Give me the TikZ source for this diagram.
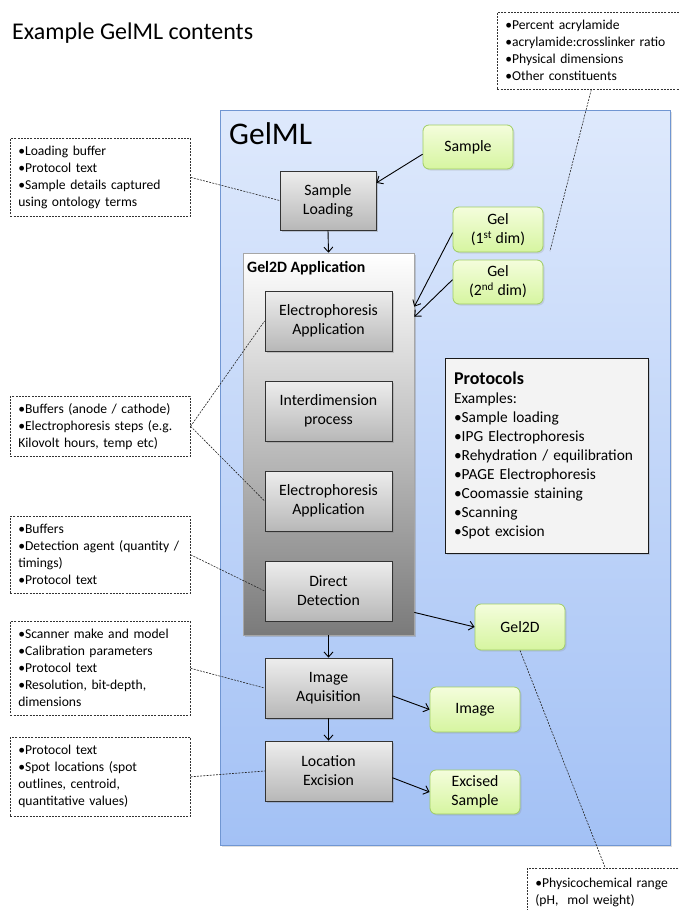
\documentclass[tikz,border=0pt]{standalone}
\usepackage{fontspec}
\setmainfont{Carlito}
\usetikzlibrary{arrows.meta,shadows}
\definecolor{bluetop}{RGB}{222,233,252}
\definecolor{bluebot}{RGB}{163,193,245}
\definecolor{blueedge}{RGB}{112,150,210}
\definecolor{greentop}{RGB}{244,253,220}
\definecolor{greenbot}{RGB}{214,245,160}
\definecolor{greenedge}{RGB}{160,205,100}
\definecolor{protofill}{RGB}{243,243,243}
\tikzset{
  greybox/.style={draw=black!80, line width=0.8pt, top color=black!7, bottom color=black!28,
    drop shadow={opacity=0.35, shadow xshift=2pt, shadow yshift=-2pt},
    align=center, inner sep=2pt, font=\fontsize{15.8}{19}\selectfont},
  greenbox/.style={draw=greenedge, line width=0.8pt, rounded corners=6pt, top color=greentop, bottom color=greenbot,
    drop shadow={opacity=0.2, shadow xshift=1.5pt, shadow yshift=-1.5pt},
    minimum width=90pt, align=center, inner sep=2pt, font=\fontsize{15.8}{19}\selectfont},
  notebox/.style={draw=black!80, dashed, dash pattern=on 2pt off 1.2pt, line width=0.6pt,
    align=left, inner xsep=8pt, inner ysep=4pt, text width=164pt,
    font=\fontsize{13.6}{17}\selectfont, anchor=north west},
  noteline/.style={draw=black!85, dash pattern=on 2pt off 1.2pt, line width=0.6pt},
  arr/.style={-{Straight Barb[length=5pt,width=9pt]}, line width=0.9pt, black}
}
\begin{document}
\begin{tikzpicture}[x=1pt,y=-1pt]
\useasboundingbox (0,0) rectangle (679,910);
\fill[white] (0,0) rectangle (679,910);

% title
\node[anchor=west, inner sep=0pt, font=\fontsize{24}{28}\selectfont] (title) at (12,33) {Example GelML contents};

% GelML blue panel
\node[draw=blueedge, line width=1pt, top color=bluetop, bottom color=bluebot,
  minimum width=450pt, minimum height=735pt, inner sep=0pt,
  drop shadow={opacity=0.25, shadow xshift=2pt, shadow yshift=-2pt}] (gelml) at (445,477.5) {};
\node[anchor=west, inner sep=0pt, font=\fontsize{31.5}{36}\selectfont] (gelmltitle) at (229,134) {GelML};

% green data nodes
\node[greenbox, minimum height=44pt] (sample) at (468,147) {Sample};
\node[greenbox, minimum height=45pt] (gel1) at (498,229.5) {Gel\\(1\textsuperscript{st} dim)};
\node[greenbox, minimum height=44pt] (gel2) at (498,282) {Gel\\(2\textsuperscript{nd} dim)};
\node[greenbox, minimum height=46pt] (gel2d) at (520,627) {Gel2D};
\node[greenbox, minimum height=45pt] (image) at (475,709.5) {Image};
\node[greenbox, minimum height=44pt] (excised) at (475,792) {Excised\\Sample};

% sample loading
\node[greybox, minimum width=96pt, minimum height=59pt] (sl) at (328,200.5) {Sample\\Loading};

% Gel2D Application container
\node[draw=black!35, line width=0.6pt, top color=white, bottom color=black!52,
  minimum width=171pt, minimum height=382pt, inner sep=0pt,
  drop shadow={opacity=0.35, shadow xshift=2pt, shadow yshift=-2pt}] (app) at (328.5,444) {};
\node[anchor=west, inner sep=0pt, font=\bfseries\fontsize{15.8}{18}\selectfont] (applabel) at (247,268) {Gel2D Application};

\node[greybox, minimum width=127pt, minimum height=60pt] (ea1) at (328.5,321) {Electrophoresis\\Application};
\node[greybox, minimum width=127pt, minimum height=60pt] (idp) at (328.5,411) {Interdimension\\process};
\node[greybox, minimum width=127pt, minimum height=60pt] (ea2) at (328.5,501) {Electrophoresis\\Application};
\node[greybox, minimum width=127pt, minimum height=60pt] (dd) at (328.5,591) {Direct\\Detection};

\node[greybox, minimum width=127pt, minimum height=60pt] (ia) at (328.5,688) {Image\\Aquisition};
\node[greybox, minimum width=127pt, minimum height=60pt] (le) at (328.5,771) {Location\\Excision};

% protocols box
\node[draw=black!90, line width=1pt, fill=protofill, minimum width=203pt, minimum height=195pt,
  text width=185pt, align=left, inner xsep=9pt, font=\fontsize{15.4}{19}\selectfont,
  drop shadow={opacity=0.25, shadow xshift=1.5pt, shadow yshift=-1.5pt}] (proto) at (546.5,455.5)
  {{\bfseries\fontsize{18}{21}\selectfont Protocols}\\
   Examples:\\
   •Sample loading\\
   •IPG Electrophoresis\\
   •Rehydration / equilibration\\
   •PAGE Electrophoresis\\
   •Coomassie staining\\
   •Scanning\\
   •Spot excision};

% note boxes
\node[notebox, minimum width=180pt, minimum height=78pt] (n1) at (10,138)
  {•Loading buffer\\•Protocol text\\•Sample details captured\\using ontology terms};
\node[notebox, minimum width=180pt, minimum height=60pt] (n2) at (10,396)
  {•Buffers (anode / cathode)\\•Electrophoresis steps (e.g.\\Kilovolt hours, temp etc)};
\node[notebox, minimum width=180pt, minimum height=77pt] (n3) at (10,516)
  {•Buffers\\•Detection agent (quantity /\\timings)\\•Protocol text};
\node[notebox, minimum width=180pt, minimum height=94pt] (n4) at (10,621)
  {•Scanner make and model\\•Calibration parameters\\•Protocol text\\•Resolution, bit-depth,\\dimensions};
\node[notebox, minimum width=180pt, minimum height=79pt] (n5) at (10,737)
  {•Protocol text\\•Spot locations (spot\\outlines, centroid,\\quantitative values)};
\node[notebox, minimum width=190pt, minimum height=77pt, text width=174pt] (n6) at (497,12)
  {•Percent acrylamide\\•acrylamide:crosslinker ratio\\•Physical dimensions\\•Other constituents};
\node[notebox, minimum width=158pt, text width=142pt, inner ysep=10pt] (n7) at (527,868)
  {•Physicochemical range\\(pH,~ mol weight)\\\strut};

% solid arrows
\draw[arr] (sample.189) -- (sl.20);
\draw[arr] (sl.south) -- (app.north);
\draw[arr] (gel1.184) -- (app.58.8);
\draw[arr] (gel2.177) -- (app.56.9);
\draw[arr] (app.-63.2) -- (gel2d.west);
\draw[arr] (app.south) -- (ia.north);
\draw[arr] (ia.south) -- (le.north);
\draw[arr] (ia.-7) -- (image.west);
\draw[arr] (le.-6.3) -- (excised.west);

% dashed annotation lines
\coordinate (gelnote) at (550,251);
\path[noteline] (n1.east) -- (sl.west);
\path[noteline] (n2.east) -- (ea1.west);
\path[noteline] (n2.east) -- (ea2.west);
\path[noteline] (n3.east) -- (dd.west);
\path[noteline] (n4.east) -- (ia.west);
\path[noteline] (n5.east) -- (le.west);
\path[noteline] ([xshift=-1pt]n6.south) -- (gelnote);
\path[noteline] (gel2d.south) -- ([xshift=-1pt]n7.north);
\end{tikzpicture}
\end{document}
